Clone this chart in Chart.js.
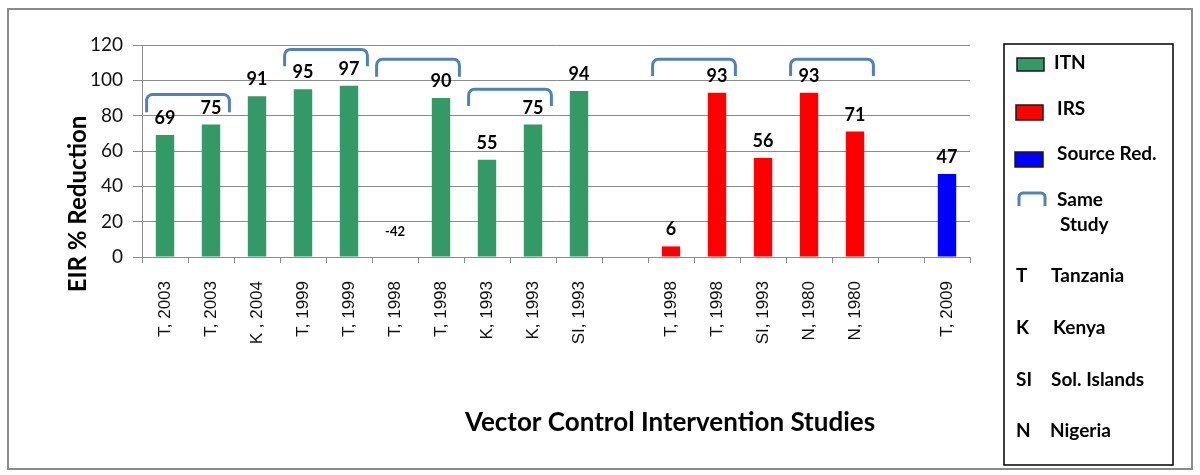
<!DOCTYPE html>
<html>
<head>
<meta charset="utf-8">
<script src="https://cdn.jsdelivr.net/npm/chart.js@4.4.1/dist/chart.umd.min.js"></script>
<style>
  html, body { margin: 0; padding: 0; background: #ffffff; }
  #wrap { width: 1200px; height: 475px; position: relative; }
</style>
</head>
<body>
<div id="wrap"><canvas id="c" width="1200" height="475"></canvas></div>
<script>
// ---- Data ----
const categories = [
  "T, 2003", "T, 2003", "K , 2004", "T, 1999", "T, 1999", "T, 1998", "T, 1998",
  "K, 1993", "K, 1993", "SI, 1993", "",
  "T, 1998", "T, 1998", "SI, 1993", "N, 1980", "N, 1980", "",
  "T, 2009"
];
const itnValues    = [69, 75, 91, 95, 97, -42, 90, 55, 75, 94, null, null, null, null, null, null, null, null];
const irsValues    = [null, null, null, null, null, null, null, null, null, null, null, 6, 93, 56, 93, 71, null, null];
const sourceValues = [null, null, null, null, null, null, null, null, null, null, null, null, null, null, null, null, null, 47];
const seriesNames  = ["ITN", "IRS", "Source Red."];
const seriesColors = ["#339966", "#ff0000", "#0000ff"];
const yTickValues  = [0, 20, 40, 60, 80, 100, 120];

// "Same Study" brackets: first category, last category, top value, hook-end value
const bracketStart  = [0, 3, 5, 7, 11, 14];
const bracketEnd    = [1, 4, 6, 8, 12, 15];
const bracketTop    = [92, 117.5, 112, 95, 112, 112];
const bracketBottom = [82, 108, 102, 85.5, 102.5, 102.5];

const countryCodes = ["T", "K", "SI", "N"];
const countryNames = ["Tanzania", "Kenya", "Sol. Islands", "Nigeria"];

const FONT = "Lato, 'Open Sans', 'DejaVu Sans', sans-serif";
const TICKFONT = "'Liberation Sans', Arial, sans-serif";
const GRID = "#8c8c8c";
const BRACKET = "#4f81bd";

function bracketPath(ctx, x1, x2, yt, yb, r) {
  ctx.beginPath();
  ctx.moveTo(x1, yb);
  ctx.lineTo(x1, yt + r);
  ctx.arcTo(x1, yt, x1 + r, yt, r);
  ctx.lineTo(x2 - r, yt);
  ctx.arcTo(x2, yt, x2, yt + r, r);
  ctx.lineTo(x2, yb);
  ctx.stroke();
}

const decorPlugin = {
  id: 'decor',
  beforeDraw(chart) {
    const ctx = chart.ctx;
    ctx.save();
    ctx.fillStyle = "#ffffff";
    ctx.fillRect(0, 0, chart.width, chart.height);
    ctx.restore();
  },
  afterDatasetsDraw(chart) {
    const ctx = chart.ctx;
    const xs = chart.scales.x, ys = chart.scales.y;
    ctx.save();
    // value labels
    chart.data.datasets.forEach((ds, i) => {
      const meta = chart.getDatasetMeta(i);
      ds.data.forEach((v, j) => {
        if (v === null || v === undefined) return;
        const el = meta.data[j];
        ctx.fillStyle = "#000";
        ctx.textAlign = "center";
        if (v >= 0) {
          ctx.font = "bold 18px " + FONT;
          ctx.textBaseline = "alphabetic";
          ctx.fillText(String(v), el.x, el.y - 11);
        } else {
          ctx.font = "bold 13px " + FONT;
          ctx.textBaseline = "middle";
          ctx.fillText(String(v), el.x, ys.getPixelForValue(0) - 25);
        }
      });
    });
    // brackets
    const cw = xs.getPixelForValue(1) - xs.getPixelForValue(0);
    ctx.strokeStyle = BRACKET;
    ctx.lineWidth = 3;
    ctx.lineJoin = "round";
    for (let k = 0; k < bracketStart.length; k++) {
      const x1 = xs.getPixelForValue(bracketStart[k]) - 0.4 * cw;
      const x2 = xs.getPixelForValue(bracketEnd[k]) + 0.4 * cw;
      bracketPath(ctx, x1, x2, ys.getPixelForValue(bracketTop[k]), ys.getPixelForValue(bracketBottom[k]), 6);
    }
    ctx.restore();
  },
  afterDraw(chart) {
    const ctx = chart.ctx;
    ctx.save();
    // outer frame
    ctx.strokeStyle = "#8a8a8a";
    ctx.lineWidth = 2;
    ctx.strokeRect(8, 9, 1184, 460);
    // axis titles
    ctx.fillStyle = "#000";
    ctx.textAlign = "center";
    ctx.textBaseline = "middle";
    ctx.font = "bold 26px " + FONT;
    ctx.fillText("Vector Control Intervention Studies", 670, 423);
    ctx.font = "bold 24px " + FONT;
    ctx.save();
    ctx.translate(78, 204);
    ctx.rotate(-Math.PI / 2);
    ctx.fillText("EIR % Reduction", 0, 0);
    ctx.restore();
    // legend box
    ctx.strokeStyle = "#000";
    ctx.lineWidth = 1.5;
    ctx.strokeRect(1004, 44, 169, 421);
    const sw = [[1017, 58, 27, 13], [1016, 105, 27, 15], [1015, 152, 28, 15]];
    const tx = [1054, 1057, 1057];
    const ty = [63, 109, 154];
    ctx.font = "bold 19px " + FONT;
    ctx.textAlign = "left";
    for (let i = 0; i < 3; i++) {
      ctx.fillStyle = seriesColors[i];
      ctx.fillRect(sw[i][0], sw[i][1], sw[i][2], sw[i][3]);
      ctx.strokeStyle = "#1a1a1a";
      ctx.lineWidth = 1.5;
      ctx.strokeRect(sw[i][0], sw[i][1], sw[i][2], sw[i][3]);
      ctx.fillStyle = "#000";
      ctx.fillText(seriesNames[i], tx[i], ty[i]);
    }
    ctx.strokeStyle = BRACKET;
    ctx.lineWidth = 3;
    bracketPath(ctx, 1019, 1045, 193, 206, 4);
    ctx.fillStyle = "#000";
    ctx.fillText("Same", 1057, 200);
    ctx.fillText("Study", 1060, 225);
    const cy = [276, 328, 380, 431];
    const nx = [1051, 1053, 1051, 1050];
    for (let i = 0; i < countryCodes.length; i++) {
      ctx.fillText(countryCodes[i], 1016, cy[i]);
      ctx.fillText(countryNames[i], nx[i], cy[i]);
    }
    ctx.restore();
  }
};

const datasets = [itnValues, irsValues, sourceValues].map((vals, i) => ({
  label: seriesNames[i],
  data: vals,
  backgroundColor: seriesColors[i],
  borderWidth: 0,
  barPercentage: 0.4,
  categoryPercentage: 1.0
}));

new Chart(document.getElementById('c'), {
  type: 'bar',
  data: { labels: categories, datasets: datasets },
  plugins: [decorPlugin],
  options: {
    responsive: false,
    animation: false,
    devicePixelRatio: 1,
    layout: { padding: { left: 0, right: 230, top: 45, bottom: 0 } },
    plugins: { legend: { display: false }, tooltip: { enabled: false }, title: { display: false } },
    scales: {
      x: {
        stacked: true,
        offset: true,
        grid: { display: true, offset: true, drawOnChartArea: false, drawTicks: true, tickLength: 6, color: GRID, lineWidth: 1 },
        border: { display: true, color: GRID, width: 1 },
        ticks: { autoSkip: false, minRotation: 90, maxRotation: 90, padding: 18, color: "#111",
                 font: { family: TICKFONT, size: 17 } },
        afterFit(s) { s.height = 218; }
      },
      y: {
        stacked: true,
        min: 0,
        max: 120,
        afterBuildTicks(s) { s.ticks = yTickValues.map(v => ({ value: v })); },
        grid: { color: GRID, lineWidth: 1, tickLength: 9 },
        border: { display: true, color: GRID, width: 1 },
        ticks: { padding: 10, color: "#111", font: { family: FONT, size: 19 } },
        afterFit(s) { s.width = 142; }
      }
    }
  }
});
</script>
</body>
</html>
